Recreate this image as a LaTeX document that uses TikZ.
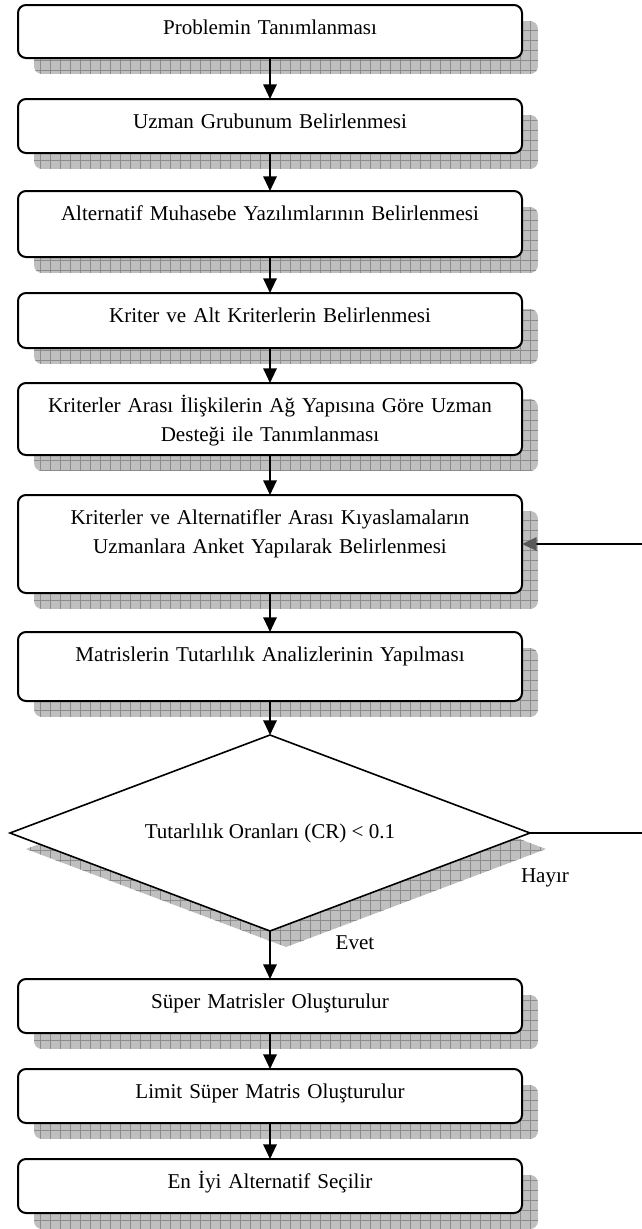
\documentclass[tikz,border=0pt]{standalone}
\usepackage{fontspec}
\setmainfont{Liberation Serif}
\usetikzlibrary{arrows.meta}
\usetikzlibrary{shapes.geometric}
\usetikzlibrary{backgrounds}

\begin{document}
\begin{tikzpicture}[x=0.75pt, y=-0.75pt,
	yazi/.style={font=\fontsize{15.8}{21.75}\selectfont},
	adim/.style={yazi, draw, line width=1.5pt, rounded corners=6pt, fill=white,
		anchor=north, inner sep=0pt, outer sep=0pt, minimum width=378pt,
		text width=370pt, align=center, text height=21.75pt, text depth=#1},
	karar/.style={yazi, draw, line width=1.2pt, diamond, shape aspect=2.65, fill=white,
		inner sep=0pt, outer sep=0pt, minimum width=390pt, minimum height=147pt},
	ok/.style={line width=1.5pt, -{Triangle[length=11pt, width=10pt]}},
	golge/.style={fill=black!25},
	izgara/.style={draw=black!45, line width=0.4pt}
	]
	\useasboundingbox (0,0) rectangle (642,1229);
	
	\def\dx{16}
	\def\dy{16}
	
	\node[adim=18pt] (s1) at (270,5) {Problemin Tanımlanması};
	\node[adim=18.75pt] (s2) at (270,99) {Uzman Grubunum Belirlenmesi};
	\node[adim=27.75pt] (s3) at (270,191) {Alternatif Muhasebe Yazılımlarının Belirlenmesi};
	\node[adim=19.5pt] (s4) at (270,293) {Kriter ve Alt Kriterlerin Belirlenmesi};
	\node[adim=32.25pt] (s5) at (270,383) {Kriterler Arası İlişkilerin Ağ Yapısına Göre Uzman\\Desteği ile Tanımlanması};
	\node[adim=51.75pt] (s6) at (270,495) {Kriterler ve Alternatifler Arası Kıyaslamaların\\Uzmanlara Anket Yapılarak Belirlenmesi};
	\node[adim=30pt] (s7) at (270,632) {Matrislerin Tutarlılık Analizlerinin Yapılması};
	\node[karar] (kr) at (270,833) {Tutarlılık Oranları (CR) < 0.1};
	\node[adim=18.75pt] (s8) at (270,979) {Süper Matrisler Oluşturulur};
	\node[adim=18.75pt] (s9) at (270,1069) {Limit Süper Matris Oluşturulur};
	\node[adim=18.75pt] (s10) at (270,1159) {En İyi Alternatif Seçilir};
	
	\node[yazi] (ev) at (355,943) {Evet};
	\node[yazi] (hy) at (545,878) {Hayır};
	\coordinate (kenar) at (644,0);
	\coordinate (krnw) at (kr.west |- kr.north);
	\coordinate (krse) at (kr.east |- kr.south);
	
	\foreach \a/\b in {s1/s2, s2/s3, s3/s4, s4/s5, s5/s6, s6/s7, s7/kr, kr/s8, s8/s9, s9/s10}
		\draw[ok] (\a) -- (\b);
	\draw[line width=1.5pt, -{Triangle[length=11pt, width=10pt, color=black!65]}] (kr.east) -- (kr.east -| kenar) |- (s6.east);
	
	\begin{scope}[on background layer]
		\foreach \i in {1,...,10}{
			\begin{scope}
				\clip[rounded corners=6pt] ([shift={(\dx,\dy)}]s\i.north west) rectangle ([shift={(\dx,\dy)}]s\i.south east);
				\fill[golge] ([shift={(\dx,\dy)}]s\i.north west) rectangle ([shift={(\dx,\dy)}]s\i.south east);
				\draw[izgara, step=7.5pt] ([shift={(\dx,\dy)}]s\i.north west) grid ([shift={(\dx,\dy)}]s\i.south east);
			\end{scope}
		}
		\begin{scope}
			\clip ([shift={(\dx,\dy)}]kr.north) -- ([shift={(\dx,\dy)}]kr.east) -- ([shift={(\dx,\dy)}]kr.south) -- ([shift={(\dx,\dy)}]kr.west) -- cycle;
			\fill[golge] ([shift={(\dx,\dy)}]krnw) rectangle ([shift={(\dx,\dy)}]krse);
			\draw[izgara, step=7.5pt] ([shift={(\dx,\dy)}]krnw) grid ([shift={(\dx,\dy)}]krse);
		\end{scope}
	\end{scope}
\end{tikzpicture}
\end{document}
